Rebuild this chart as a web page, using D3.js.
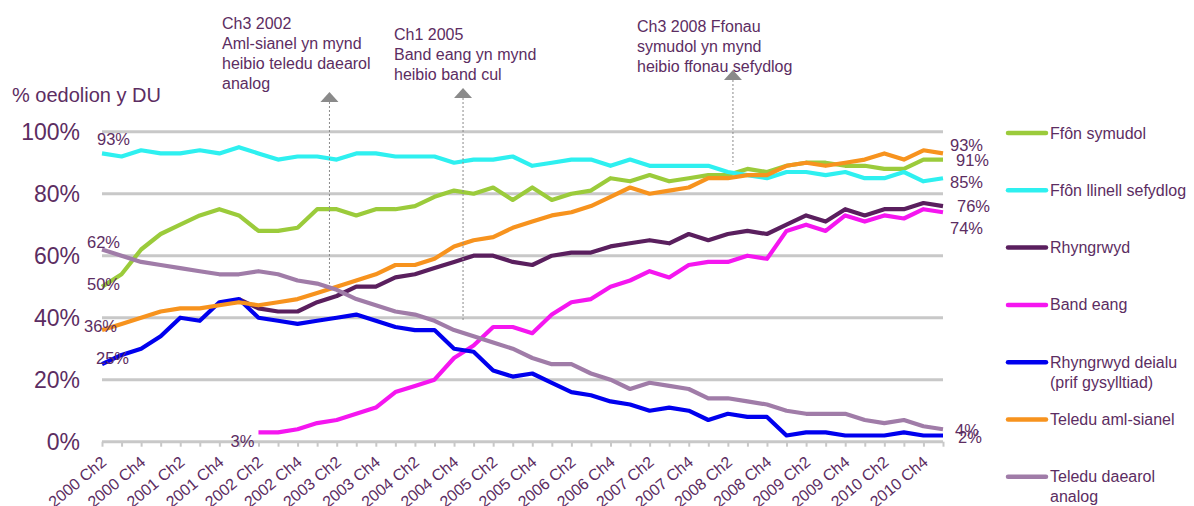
<!DOCTYPE html>
<html>
<head>
<meta charset="utf-8">
<script src="https://cdn.jsdelivr.net/npm/d3@7"></script>
<style>
  body { margin: 0; background: #fff; }
  text { font-family: "Liberation Sans", Arial, sans-serif; }
</style>
</head>
<body>
<div id="chart"></div>
<script>
// quarters (Ch = chwarter)
var categories = [
  "2000 Ch2","2000 Ch3","2000 Ch4","2001 Ch1","2001 Ch2","2001 Ch3","2001 Ch4","2002 Ch1",
  "2002 Ch2","2002 Ch3","2002 Ch4","2003 Ch1","2003 Ch2","2003 Ch3","2003 Ch4","2004 Ch1",
  "2004 Ch2","2004 Ch3","2004 Ch4","2005 Ch1","2005 Ch2","2005 Ch3","2005 Ch4","2006 Ch1",
  "2006 Ch2","2006 Ch3","2006 Ch4","2007 Ch1","2007 Ch2","2007 Ch3","2007 Ch4","2008 Ch1",
  "2008 Ch2","2008 Ch3","2008 Ch4","2009 Ch1","2009 Ch2","2009 Ch3","2009 Ch4","2010 Ch1",
  "2010 Ch2","2010 Ch3","2010 Ch4","2011 Ch1"
];

var mobile = [50,54,62,67,70,73,75,73,68,68,69,75,75,73,75,75,76,79,81,80,82,78,82,78,80,81,85,84,86,84,85,86,86,88,87,89,90,90,89,89,88,88,91,91];
var landline = [93,92,94,93,93,94,93,95,93,91,92,92,91,93,93,92,92,92,90,91,91,92,89,90,91,91,89,91,89,89,89,89,87,86,85,87,87,86,87,85,85,87,84,85];
var internet = [null,null,null,null,null,null,null,46,43,42,42,45,47,50,50,53,54,56,58,60,60,58,57,60,61,61,63,64,65,64,67,65,67,68,67,70,73,71,75,73,75,75,77,76];
var broadband = [null,null,null,null,null,null,null,null,3,3,4,6,7,9,11,16,18,20,27,31,37,37,35,41,45,46,50,52,55,53,57,58,58,60,59,68,70,68,73,71,73,72,75,74];
var dialup = [25,28,30,34,40,39,45,46,40,39,38,39,40,41,39,37,36,36,30,29,23,21,22,19,16,15,13,12,10,11,10,7,9,8,8,2,3,3,2,2,2,3,2,2];
var multichannel = [36,38,40,42,43,43,44,45,44,45,46,48,50,52,54,57,57,59,63,65,66,69,71,73,74,76,79,82,80,81,82,85,85,86,86,89,90,89,90,91,93,91,94,93];
var analogue = [62,60,58,57,56,55,54,54,55,54,52,51,49,46,44,42,41,39,36,34,32,30,27,25,25,22,20,17,19,18,17,14,14,13,12,10,9,9,9,7,6,7,5,4];

var seriesNames = ["Ffôn symudol", "Ffôn llinell sefydlog", "Rhyngrwyd", "Band eang",
  "Rhyngrwyd deialu (prif gysylltiad)", "Teledu aml-sianel", "Teledu daearol analog"];
var legendLines = [["Ffôn symudol"], ["Ffôn llinell sefydlog"], ["Rhyngrwyd"], ["Band eang"],
  ["Rhyngrwyd deialu", "(prif gysylltiad)"], ["Teledu aml-sianel"], ["Teledu daearol", "analog"]];
var yTicks = [0, 20, 40, 60, 80, 100];

var annotationLines = [
  ["Ch3 2002", "Aml-sianel yn mynd", "heibio teledu daearol", "analog"],
  ["Ch1 2005", "Band eang yn mynd", "heibio band cul"],
  ["Ch3 2008 Ffonau", "symudol yn mynd", "heibio ffonau sefydlog"]
];
// where each arrow points: fractional quarter index and % value at the crossing
var annotationAt = [11.63, 18.46, 32.26];
var annotationValue = [50.6, 38.7, 89.3];

// ---- styling / layout ----
var colors = ["#9bcb3b", "#2ef0f0", "#5a1f5e", "#f516f0", "#0000ee", "#f7931e", "#a07ca8"];
var textColor = "#5c2d62";
// [dx, dy, anchor] for first-value labels, [dx, dy] for last-value labels
var startOffset = [[-15, 3, "start"], [-5, -8, "start"], null, [-4, 15, "end"], [-6, 0, "start"], [-18, 2, "start"], [-15, -2, "start"]];
var endOffset = [[13, 6.5], [7, 10], [14, 6], [7, 21.5], [15, 7], [7, -2.5], [12, 6.5]];

var width = 1194, height = 506;

var series = [mobile, landline, internet, broadband, dialup, multichannel, analogue];

var svg = d3.select("#chart").append("svg")
  .attr("width", width)
  .attr("height", height);

var x = d3.scalePoint().domain(categories).range([102, 943]);
var y = d3.scaleLinear().domain([0, 100]).range([441.7, 131.7]);
var step = x.step();
function xi(i) { return x(categories[0]) + i * step; }

// gridlines
svg.append("g").selectAll("line")
  .data(yTicks)
  .enter().append("line")
  .attr("x1", x.range()[0]).attr("x2", x.range()[1])
  .attr("y1", function(d) { return y(d); })
  .attr("y2", function(d) { return y(d); })
  .attr("stroke", "#c8c8c8")
  .attr("stroke-width", 3);

// y axis labels
var yAxis = svg.append("g")
  .attr("transform", "translate(102,0)")
  .call(d3.axisLeft(y).tickValues(yTicks).tickSize(0).tickPadding(22)
    .tickFormat(function(d) { return d + "%"; }));
yAxis.select(".domain").remove();
yAxis.selectAll("text")
  .attr("font-size", "23px")
  .attr("font-family", "Liberation Sans, Arial, sans-serif")
  .attr("fill", textColor);

svg.append("text")
  .attr("x", 12).attr("y", 102)
  .attr("font-size", "20px")
  .attr("fill", textColor)
  .text("% oedolion y DU");

// x axis
var xAxis = svg.append("g")
  .attr("transform", "translate(0," + y(0) + ")")
  .call(d3.axisBottom(x).tickSize(5)
    .tickFormat(function(d, i) { return i % 2 === 0 ? d : ""; }));
xAxis.select(".domain").remove();
xAxis.selectAll(".tick line").attr("stroke", "#c8c8c8").attr("stroke-width", 2);
xAxis.selectAll("text")
  .attr("font-size", "16px")
  .attr("font-family", "Liberation Sans, Arial, sans-serif")
  .attr("fill", textColor)
  .attr("text-anchor", "end")
  .attr("y", 0).attr("dy", 0)
  .attr("transform", "translate(5,22) rotate(-40)");

// lines
var line = d3.line()
  .defined(function(d) { return d != null; })
  .x(function(d, i) { return x(categories[i]); })
  .y(function(d) { return y(d); });

svg.append("g").selectAll("path")
  .data(series)
  .enter().append("path")
  .attr("d", line)
  .attr("fill", "none")
  .attr("stroke", function(d, i) { return colors[i]; })
  .attr("stroke-width", 4.2)
  .attr("stroke-linejoin", "round");

// annotations
var ann = svg.append("g");
annotationLines.forEach(function(lines, k) {
  var ax = xi(annotationAt[k]);
  var tipY = [92, 88, 70][k];
  var tx = [222, 394, 637][k];
  var ty = [29, 40, 32][k];
  ann.append("line")
    .attr("x1", ax).attr("x2", ax)
    .attr("y1", tipY + 10).attr("y2", y(annotationValue[k]))
    .attr("stroke", "#8a8a8a").attr("stroke-width", 1)
    .attr("stroke-dasharray", "2,2");
  ann.append("path")
    .attr("d", "M" + ax + "," + tipY + " L" + (ax + 9) + "," + (tipY + 10) + " L" + (ax - 9) + "," + (tipY + 10) + "Z")
    .attr("fill", "#8a8a8a");
  var t = ann.append("text")
    .attr("font-size", "16px")
    .attr("fill", textColor);
  lines.forEach(function(s, j) {
    t.append("tspan").attr("x", tx).attr("y", ty + j * 20).text(s);
  });
});

// start and end value labels
var labels = svg.append("g").attr("font-size", "16.5px").attr("fill", textColor);
series.forEach(function(values, k) {
  var first = values.findIndex(function(v) { return v != null; });
  if (startOffset[k]) {
    labels.append("text")
      .attr("x", x(categories[first]) + startOffset[k][0])
      .attr("y", y(values[first]) + startOffset[k][1])
      .attr("text-anchor", startOffset[k][2])
      .text(values[first] + "%");
  }
  var last = values.length - 1;
  labels.append("text")
    .attr("x", x(categories[last]) + endOffset[k][0])
    .attr("y", y(values[last]) + endOffset[k][1])
    .text(values[last] + "%");
});

// legend
var legend = svg.append("g").selectAll("g")
  .data(seriesNames)
  .enter().append("g")
  .attr("transform", function(d, i) { return "translate(1008," + (133 + i * 57.3) + ")"; });
legend.append("line")
  .attr("x1", 0).attr("x2", 38)
  .attr("stroke", function(d, i) { return colors[i]; })
  .attr("stroke-width", 4.5)
  .attr("stroke-linecap", "round");
legend.append("text")
  .attr("font-size", "16px")
  .attr("fill", textColor)
  .each(function(d, i) {
    var t = d3.select(this);
    legendLines[i].forEach(function(s, j) {
      t.append("tspan").attr("x", 42).attr("y", 5.5 + j * 20).text(s);
    });
  });
</script>
</body>
</html>
